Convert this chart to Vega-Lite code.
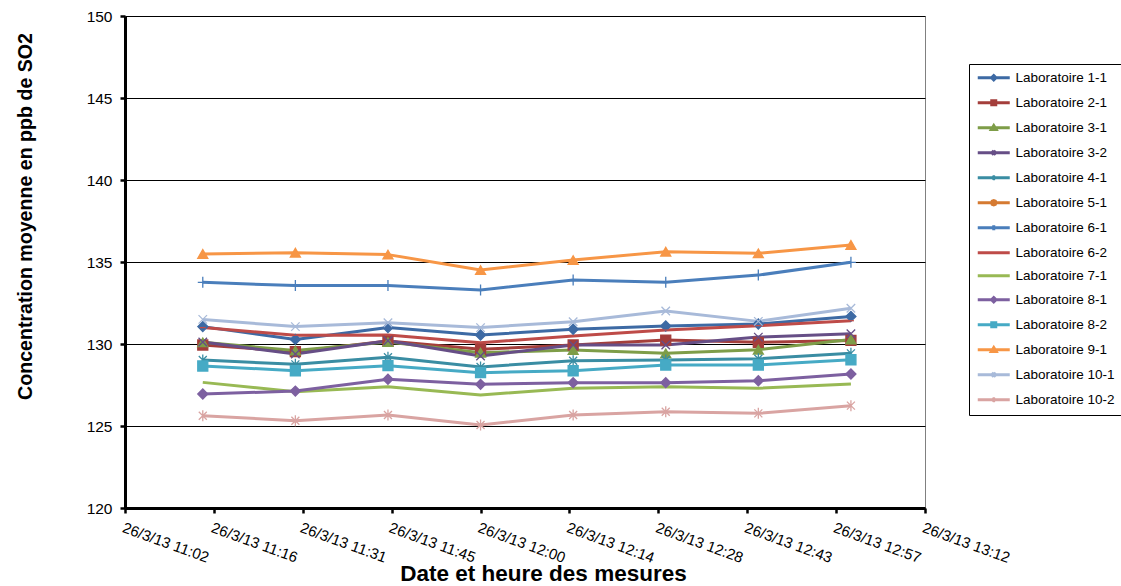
{
  "$schema": "https://vega.github.io/schema/vega-lite/v6.json",
  "width": 800,
  "height": 492,
  "autosize": {"type": "none"},
  "padding": {"left": 125, "top": 16, "right": 196, "bottom": 78},
  "background": "white",
  "config": {
    "view": {"stroke": "#808080", "strokeWidth": 1},
    "font": "Liberation Sans"
  },
  "data": {
    "values": [
      {"lab": "Laboratoire 1-1", "t": "2013-03-26T11:15:00Z", "v": 131.06},
      {"lab": "Laboratoire 1-1", "t": "2013-03-26T11:30:00Z", "v": 130.28},
      {"lab": "Laboratoire 1-1", "t": "2013-03-26T11:45:00Z", "v": 131.0},
      {"lab": "Laboratoire 1-1", "t": "2013-03-26T12:00:00Z", "v": 130.55},
      {"lab": "Laboratoire 1-1", "t": "2013-03-26T12:15:00Z", "v": 130.9},
      {"lab": "Laboratoire 1-1", "t": "2013-03-26T12:30:00Z", "v": 131.1},
      {"lab": "Laboratoire 1-1", "t": "2013-03-26T12:45:00Z", "v": 131.22},
      {"lab": "Laboratoire 1-1", "t": "2013-03-26T13:00:00Z", "v": 131.68},
      {"lab": "Laboratoire 2-1", "t": "2013-03-26T11:15:00Z", "v": 129.94},
      {"lab": "Laboratoire 2-1", "t": "2013-03-26T11:30:00Z", "v": 129.53},
      {"lab": "Laboratoire 2-1", "t": "2013-03-26T11:45:00Z", "v": 130.18},
      {"lab": "Laboratoire 2-1", "t": "2013-03-26T12:00:00Z", "v": 129.68},
      {"lab": "Laboratoire 2-1", "t": "2013-03-26T12:15:00Z", "v": 129.94},
      {"lab": "Laboratoire 2-1", "t": "2013-03-26T12:30:00Z", "v": 130.24},
      {"lab": "Laboratoire 2-1", "t": "2013-03-26T12:45:00Z", "v": 130.1},
      {"lab": "Laboratoire 2-1", "t": "2013-03-26T13:00:00Z", "v": 130.22},
      {"lab": "Laboratoire 3-1", "t": "2013-03-26T11:15:00Z", "v": 130.1},
      {"lab": "Laboratoire 3-1", "t": "2013-03-26T11:30:00Z", "v": 129.6},
      {"lab": "Laboratoire 3-1", "t": "2013-03-26T11:45:00Z", "v": 130.12},
      {"lab": "Laboratoire 3-1", "t": "2013-03-26T12:00:00Z", "v": 129.47},
      {"lab": "Laboratoire 3-1", "t": "2013-03-26T12:15:00Z", "v": 129.63},
      {"lab": "Laboratoire 3-1", "t": "2013-03-26T12:30:00Z", "v": 129.43},
      {"lab": "Laboratoire 3-1", "t": "2013-03-26T12:45:00Z", "v": 129.65},
      {"lab": "Laboratoire 3-1", "t": "2013-03-26T13:00:00Z", "v": 130.28},
      {"lab": "Laboratoire 3-2", "t": "2013-03-26T11:15:00Z", "v": 130.12},
      {"lab": "Laboratoire 3-2", "t": "2013-03-26T11:30:00Z", "v": 129.39},
      {"lab": "Laboratoire 3-2", "t": "2013-03-26T11:45:00Z", "v": 130.2},
      {"lab": "Laboratoire 3-2", "t": "2013-03-26T12:00:00Z", "v": 129.27},
      {"lab": "Laboratoire 3-2", "t": "2013-03-26T12:15:00Z", "v": 129.94},
      {"lab": "Laboratoire 3-2", "t": "2013-03-26T12:30:00Z", "v": 129.94},
      {"lab": "Laboratoire 3-2", "t": "2013-03-26T12:45:00Z", "v": 130.42},
      {"lab": "Laboratoire 3-2", "t": "2013-03-26T13:00:00Z", "v": 130.63},
      {"lab": "Laboratoire 4-1", "t": "2013-03-26T11:15:00Z", "v": 129.02},
      {"lab": "Laboratoire 4-1", "t": "2013-03-26T11:30:00Z", "v": 128.76},
      {"lab": "Laboratoire 4-1", "t": "2013-03-26T11:45:00Z", "v": 129.19},
      {"lab": "Laboratoire 4-1", "t": "2013-03-26T12:00:00Z", "v": 128.6},
      {"lab": "Laboratoire 4-1", "t": "2013-03-26T12:15:00Z", "v": 128.98},
      {"lab": "Laboratoire 4-1", "t": "2013-03-26T12:30:00Z", "v": 129.02},
      {"lab": "Laboratoire 4-1", "t": "2013-03-26T12:45:00Z", "v": 129.1},
      {"lab": "Laboratoire 4-1", "t": "2013-03-26T13:00:00Z", "v": 129.43},
      {"lab": "Laboratoire 6-1", "t": "2013-03-26T11:15:00Z", "v": 133.76},
      {"lab": "Laboratoire 6-1", "t": "2013-03-26T11:30:00Z", "v": 133.56},
      {"lab": "Laboratoire 6-1", "t": "2013-03-26T11:45:00Z", "v": 133.56},
      {"lab": "Laboratoire 6-1", "t": "2013-03-26T12:00:00Z", "v": 133.29},
      {"lab": "Laboratoire 6-1", "t": "2013-03-26T12:15:00Z", "v": 133.9},
      {"lab": "Laboratoire 6-1", "t": "2013-03-26T12:30:00Z", "v": 133.76},
      {"lab": "Laboratoire 6-1", "t": "2013-03-26T12:45:00Z", "v": 134.2},
      {"lab": "Laboratoire 6-1", "t": "2013-03-26T13:00:00Z", "v": 134.98},
      {"lab": "Laboratoire 6-2", "t": "2013-03-26T11:15:00Z", "v": 131.0},
      {"lab": "Laboratoire 6-2", "t": "2013-03-26T11:30:00Z", "v": 130.53},
      {"lab": "Laboratoire 6-2", "t": "2013-03-26T11:45:00Z", "v": 130.55},
      {"lab": "Laboratoire 6-2", "t": "2013-03-26T12:00:00Z", "v": 130.08},
      {"lab": "Laboratoire 6-2", "t": "2013-03-26T12:15:00Z", "v": 130.49},
      {"lab": "Laboratoire 6-2", "t": "2013-03-26T12:30:00Z", "v": 130.85},
      {"lab": "Laboratoire 6-2", "t": "2013-03-26T12:45:00Z", "v": 131.12},
      {"lab": "Laboratoire 6-2", "t": "2013-03-26T13:00:00Z", "v": 131.42},
      {"lab": "Laboratoire 7-1", "t": "2013-03-26T11:15:00Z", "v": 127.66},
      {"lab": "Laboratoire 7-1", "t": "2013-03-26T11:30:00Z", "v": 127.09},
      {"lab": "Laboratoire 7-1", "t": "2013-03-26T11:45:00Z", "v": 127.4},
      {"lab": "Laboratoire 7-1", "t": "2013-03-26T12:00:00Z", "v": 126.89},
      {"lab": "Laboratoire 7-1", "t": "2013-03-26T12:15:00Z", "v": 127.3},
      {"lab": "Laboratoire 7-1", "t": "2013-03-26T12:30:00Z", "v": 127.4},
      {"lab": "Laboratoire 7-1", "t": "2013-03-26T12:45:00Z", "v": 127.3},
      {"lab": "Laboratoire 7-1", "t": "2013-03-26T13:00:00Z", "v": 127.56},
      {"lab": "Laboratoire 8-1", "t": "2013-03-26T11:15:00Z", "v": 126.95},
      {"lab": "Laboratoire 8-1", "t": "2013-03-26T11:30:00Z", "v": 127.13},
      {"lab": "Laboratoire 8-1", "t": "2013-03-26T11:45:00Z", "v": 127.85},
      {"lab": "Laboratoire 8-1", "t": "2013-03-26T12:00:00Z", "v": 127.54},
      {"lab": "Laboratoire 8-1", "t": "2013-03-26T12:15:00Z", "v": 127.64},
      {"lab": "Laboratoire 8-1", "t": "2013-03-26T12:30:00Z", "v": 127.64},
      {"lab": "Laboratoire 8-1", "t": "2013-03-26T12:45:00Z", "v": 127.76},
      {"lab": "Laboratoire 8-1", "t": "2013-03-26T13:00:00Z", "v": 128.17},
      {"lab": "Laboratoire 8-2", "t": "2013-03-26T11:15:00Z", "v": 128.66},
      {"lab": "Laboratoire 8-2", "t": "2013-03-26T11:30:00Z", "v": 128.37},
      {"lab": "Laboratoire 8-2", "t": "2013-03-26T11:45:00Z", "v": 128.68},
      {"lab": "Laboratoire 8-2", "t": "2013-03-26T12:00:00Z", "v": 128.25},
      {"lab": "Laboratoire 8-2", "t": "2013-03-26T12:15:00Z", "v": 128.37},
      {"lab": "Laboratoire 8-2", "t": "2013-03-26T12:30:00Z", "v": 128.72},
      {"lab": "Laboratoire 8-2", "t": "2013-03-26T12:45:00Z", "v": 128.72},
      {"lab": "Laboratoire 8-2", "t": "2013-03-26T13:00:00Z", "v": 129.04},
      {"lab": "Laboratoire 9-1", "t": "2013-03-26T11:15:00Z", "v": 135.49},
      {"lab": "Laboratoire 9-1", "t": "2013-03-26T11:30:00Z", "v": 135.57},
      {"lab": "Laboratoire 9-1", "t": "2013-03-26T11:45:00Z", "v": 135.45},
      {"lab": "Laboratoire 9-1", "t": "2013-03-26T12:00:00Z", "v": 134.51},
      {"lab": "Laboratoire 9-1", "t": "2013-03-26T12:15:00Z", "v": 135.12},
      {"lab": "Laboratoire 9-1", "t": "2013-03-26T12:30:00Z", "v": 135.63},
      {"lab": "Laboratoire 9-1", "t": "2013-03-26T12:45:00Z", "v": 135.53},
      {"lab": "Laboratoire 9-1", "t": "2013-03-26T13:00:00Z", "v": 136.04},
      {"lab": "Laboratoire 10-1", "t": "2013-03-26T11:15:00Z", "v": 131.5},
      {"lab": "Laboratoire 10-1", "t": "2013-03-26T11:30:00Z", "v": 131.06},
      {"lab": "Laboratoire 10-1", "t": "2013-03-26T11:45:00Z", "v": 131.3},
      {"lab": "Laboratoire 10-1", "t": "2013-03-26T12:00:00Z", "v": 131.0},
      {"lab": "Laboratoire 10-1", "t": "2013-03-26T12:15:00Z", "v": 131.36},
      {"lab": "Laboratoire 10-1", "t": "2013-03-26T12:30:00Z", "v": 132.01},
      {"lab": "Laboratoire 10-1", "t": "2013-03-26T12:45:00Z", "v": 131.38},
      {"lab": "Laboratoire 10-1", "t": "2013-03-26T13:00:00Z", "v": 132.18},
      {"lab": "Laboratoire 10-2", "t": "2013-03-26T11:15:00Z", "v": 125.63},
      {"lab": "Laboratoire 10-2", "t": "2013-03-26T11:30:00Z", "v": 125.32},
      {"lab": "Laboratoire 10-2", "t": "2013-03-26T11:45:00Z", "v": 125.67},
      {"lab": "Laboratoire 10-2", "t": "2013-03-26T12:00:00Z", "v": 125.06},
      {"lab": "Laboratoire 10-2", "t": "2013-03-26T12:15:00Z", "v": 125.67},
      {"lab": "Laboratoire 10-2", "t": "2013-03-26T12:30:00Z", "v": 125.87},
      {"lab": "Laboratoire 10-2", "t": "2013-03-26T12:45:00Z", "v": 125.77},
      {"lab": "Laboratoire 10-2", "t": "2013-03-26T13:00:00Z", "v": 126.24}
    ]
  },
  "encoding": {
    "x": {
      "field": "t",
      "type": "temporal",
      "scale": {
        "type": "utc",
        "domain": [
          {"year": 2013, "month": 3, "date": 26, "hours": 11, "minutes": 2, "seconds": 24, "utc": true},
          {"year": 2013, "month": 3, "date": 26, "hours": 13, "minutes": 12, "seconds": 0, "utc": true}
        ]
      },
      "axis": {
        "title": "Date et heure des mesures",
        "values": [1364295744000, 1364296608000, 1364297472000, 1364298336000, 1364299200000, 1364300064000, 1364300928000, 1364301792000, 1364302656000, 1364303520000],
        "labelExpr": "utcFormat(datum.value, '%-d/%-m/%y %H:%M')",
        "grid": false,
        "domainColor": "black",
        "domainWidth": 3,
        "tickColor": "black",
        "tickWidth": 2.5,
        "tickSize": 5,
        "labelAngle": 20,
        "labelAlign": "left",
        "labelBaseline": "top",
        "labelPadding": 7,
        "labelFlush": false,
        "labelOverlap": false,
        "labelFont": "Liberation Sans",
        "labelFontSize": 15,
        "labelColor": "black",
        "titleFont": "Liberation Sans",
        "titleFontSize": 22.5,
        "titleFontWeight": "bold",
        "titleColor": "black",
        "titleAlign": "center",
        "titleBaseline": "alphabetic",
        "titleAnchor": null,
        "titleX": 418,
        "titleY": 72
      }
    },
    "y": {
      "field": "v",
      "type": "quantitative",
      "scale": {"domain": [120, 150], "zero": false, "nice": false},
      "axis": {
        "title": "Concentration moyenne en ppb de SO2",
        "values": [120, 125, 130, 135, 140, 145, 150],
        "grid": true,
        "gridColor": "black",
        "gridWidth": 1,
        "gridOpacity": 1,
        "domainColor": "black",
        "domainWidth": 3,
        "tickColor": "black",
        "tickWidth": 2.5,
        "tickSize": 5,
        "labelPadding": 8,
        "labelFont": "Liberation Sans",
        "labelFontSize": 15.5,
        "labelColor": "black",
        "titleFont": "Liberation Sans",
        "titleFontSize": 19.6,
        "titleFontWeight": "bold",
        "titleColor": "black",
        "titleAngle": -90,
        "titleAlign": "center",
        "titleBaseline": "middle",
        "titleAnchor": null,
        "titleX": -100,
        "titleY": 200
      }
    }
  },
  "layer": [
    {
      "mark": {"type": "line", "strokeWidth": 3, "strokeJoin": "round"},
      "encoding": {
        "color": {
          "field": "lab",
          "type": "nominal",
          "scale": {
            "domain": ["Laboratoire 1-1", "Laboratoire 2-1", "Laboratoire 3-1", "Laboratoire 3-2", "Laboratoire 4-1", "Laboratoire 5-1", "Laboratoire 6-1", "Laboratoire 6-2", "Laboratoire 7-1", "Laboratoire 8-1", "Laboratoire 8-2", "Laboratoire 9-1", "Laboratoire 10-1", "Laboratoire 10-2"],
            "range": ["#3D6AA4", "#A43E3B", "#7E9D48", "#664E86", "#3A8DA3", "#D57A31", "#4A7EBB", "#BE4B48", "#98B954", "#7D60A0", "#46AAC5", "#F79646", "#A8BAD9", "#D9A4A2"]
          },
          "legend": {
            "title": null,
            "orient": "none",
            "legendX": 844,
            "legendY": 48,
            "direction": "vertical",
            "strokeColor": "black",
            "fillColor": "white",
            "padding": 7,
            "symbolSize": 64,
            "symbolStrokeWidth": 3,
            "symbolOffset": 11,
            "labelOffset": 15,
            "rowPadding": 8,
            "labelFont": "Liberation Sans",
            "labelFontSize": 13.5,
            "labelColor": "black",
            "labelLimit": 300,
            "encode": {
              "symbols": {
                "update": {
                  "shape": {"signal": "['M-4,0H4M0,-0.55L0.55,0L0,0.55L-0.55,0Z','M-4,0H4M-0.5,-0.5H0.5V0.5H-0.5Z','M-4,0H4M0,-0.55L0.6,0.45H-0.6Z','M-4,0H4M-0.5,-0.5L0.5,0.5M-0.5,0.5L0.5,-0.5','M-4,0H4M-0.4,-0.4L0.4,0.4M-0.4,0.4L0.4,-0.4M0,-0.5V0.5','M-4,0H4M0.55,0L0.4,0.4L0,0.55L-0.4,0.4L-0.55,0L-0.4,-0.4L0,-0.55L0.4,-0.4Z','M-4,0H4M0,-0.6V0.6','M-4,0H4','M-4,0H4','M-4,0H4M0,-0.55L0.55,0L0,0.55L-0.55,0Z','M-4,0H4M-0.5,-0.5H0.5V0.5H-0.5Z','M-4,0H4M0,-0.55L0.6,0.45H-0.6Z','M-4,0H4M-0.5,-0.5L0.5,0.5M-0.5,0.5L0.5,-0.5','M-4,0H4M-0.4,-0.4L0.4,0.4M-0.4,0.4L0.4,-0.4M0,-0.5V0.5'][datum.index]"},
                  "fill": {"scale": "color", "field": "value"},
                  "stroke": {"scale": "color", "field": "value"},
                  "strokeWidth": {"value": 3},
                  "opacity": {"value": 1}
                }
              }
            }
          }
        }
      }
    },
    {
      "transform": [
        {"filter": "datum.lab != 'Laboratoire 7-1'"},
        {"calculate": "datum.lab + ' m'", "as": "marker"}
      ],
      "mark": {"type": "point", "filled": true, "size": 100, "strokeWidth": 1.3, "opacity": 1},
      "encoding": {
        "fill": {
          "field": "marker",
          "type": "nominal",
          "legend": null,
          "scale": {
            "domain": ["Laboratoire 1-1 m", "Laboratoire 2-1 m", "Laboratoire 3-1 m", "Laboratoire 3-2 m", "Laboratoire 4-1 m", "Laboratoire 5-1 m", "Laboratoire 6-1 m", "Laboratoire 6-2 m", "Laboratoire 7-1 m", "Laboratoire 8-1 m", "Laboratoire 8-2 m", "Laboratoire 9-1 m", "Laboratoire 10-1 m", "Laboratoire 10-2 m"],
            "range": ["#3D6AA4", "#A43E3B", "#7E9D48", "#664E86", "#3A8DA3", "#D57A31", "#4A7EBB", "#BE4B48", "#98B954", "#7D60A0", "#46AAC5", "#F79646", "#A8BAD9", "#D9A4A2"]
          }
        },
        "stroke": {
          "field": "marker",
          "type": "nominal",
          "legend": null,
          "scale": {
            "domain": ["Laboratoire 1-1 m", "Laboratoire 2-1 m", "Laboratoire 3-1 m", "Laboratoire 3-2 m", "Laboratoire 4-1 m", "Laboratoire 5-1 m", "Laboratoire 6-1 m", "Laboratoire 6-2 m", "Laboratoire 7-1 m", "Laboratoire 8-1 m", "Laboratoire 8-2 m", "Laboratoire 9-1 m", "Laboratoire 10-1 m", "Laboratoire 10-2 m"],
            "range": ["#3D6AA4", "#A43E3B", "#7E9D48", "#664E86", "#3A8DA3", "#D57A31", "#4A7EBB", "#BE4B48", "#98B954", "#7D60A0", "#46AAC5", "#F79646", "#A8BAD9", "#D9A4A2"]
          }
        },
        "shape": {
          "field": "marker",
          "type": "nominal",
          "legend": null,
          "scale": {
            "domain": ["Laboratoire 1-1 m", "Laboratoire 2-1 m", "Laboratoire 3-1 m", "Laboratoire 3-2 m", "Laboratoire 4-1 m", "Laboratoire 5-1 m", "Laboratoire 6-1 m", "Laboratoire 6-2 m", "Laboratoire 7-1 m", "Laboratoire 8-1 m", "Laboratoire 8-2 m", "Laboratoire 9-1 m", "Laboratoire 10-1 m", "Laboratoire 10-2 m"],
            "range": ["diamond", "square", "triangle-up", "M-0.85,-0.85L0.85,0.85M-0.85,0.85L0.85,-0.85", "M-0.8,-0.8L0.8,0.8M-0.8,0.8L0.8,-0.8M0,-1.1V1.1", "circle", "M-1,0H1M0,-1.1V1.1", "M-0.6,0H0.6", "M0,0", "diamond", "square", "triangle-up", "M-0.85,-0.85L0.85,0.85M-0.85,0.85L0.85,-0.85", "M-0.8,-0.8L0.8,0.8M-0.8,0.8L0.8,-0.8M0,-1.1V1.1"]
          }
        }
      }
    }
  ]
}
